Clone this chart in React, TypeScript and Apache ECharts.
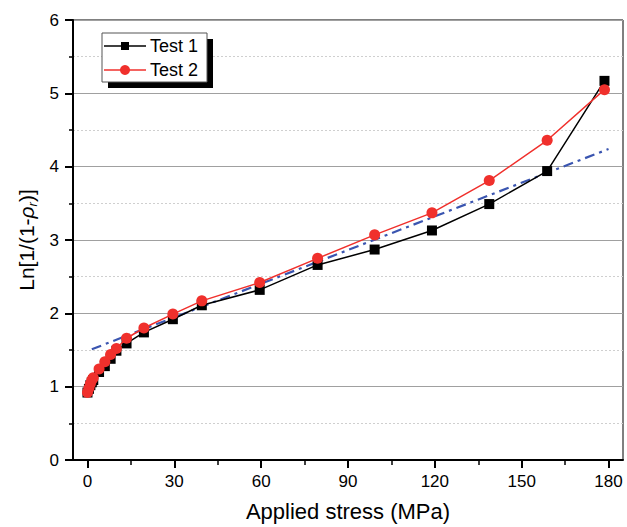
import React, { useEffect, useRef } from "react";
import * as echarts from "echarts";

const test1X = [0, 0.5, 1, 1.5, 2, 4, 6, 8, 10, 13.5, 19.5, 29.5, 39.5, 59.5, 79.5, 99.2, 119, 138.8, 158.8, 178.6];
const test1Y = [0.92, 0.97, 1.02, 1.06, 1.09, 1.2, 1.28, 1.38, 1.49, 1.59, 1.74, 1.92, 2.11, 2.32, 2.66, 2.87, 3.13, 3.49, 3.94, 5.17];
const test2X = [0, 0.5, 1, 1.5, 2, 4, 6, 8, 10, 13.5, 19.5, 29.5, 39.5, 59.5, 79.5, 99.2, 119, 138.8, 158.8, 178.6];
const test2Y = [0.92, 0.98, 1.04, 1.09, 1.12, 1.24, 1.34, 1.44, 1.52, 1.66, 1.8, 1.99, 2.17, 2.42, 2.75, 3.07, 3.37, 3.81, 4.36, 5.05];
const fitX = [1.5, 180];
const fitY = [1.51, 4.24];
const xTickLabels = [0, 30, 60, 90, 120, 150, 180];
const xMinorTicks = [15, 45, 75, 105, 135, 165];
const seriesNames = ["Test 1", "Test 2"];

const FONT = "Arial, 'Liberation Sans', sans-serif";

export default function App() {
  const ref = useRef<HTMLDivElement>(null);
  useEffect(() => {
    if (!ref.current) return;
    const chart = echarts.init(ref.current, null, { renderer: "svg" });
    const zip = (xs: number[], ys: number[]) => xs.map((x, i) => [x, ys[i]]);
    chart.setOption({
      animation: false,
      backgroundColor: "#fff",
      grid: {
        left: 73, right: 4, top: 20, bottom: 65,
        show: true, borderColor: "#000", borderWidth: 1, backgroundColor: "transparent",
      },
      xAxis: [
        {
          type: "value", min: -5, max: 185,
          axisLine: { show: true, onZero: false, lineStyle: { color: "#000", width: 2 } },
          axisTick: { show: true, customValues: xTickLabels, length: 8, lineStyle: { color: "#000", width: 2 } },
          axisLabel: { customValues: xTickLabels, color: "#000", fontSize: 17, fontFamily: FONT, margin: 13 },
          splitLine: { show: false },
          name: "Applied stress (MPa)", nameLocation: "middle", nameGap: 40,
          nameTextStyle: { color: "#000", fontSize: 22, fontFamily: FONT },
        },
        {
          type: "value", min: -5, max: 185, position: "bottom", gridIndex: 0,
          axisLine: { show: false, onZero: false },
          axisTick: { show: true, customValues: xMinorTicks, length: 5, inside: false, lineStyle: { color: "#000", width: 1.5 } },
          axisLabel: { show: false },
          splitLine: { show: false },
        },
      ],
      yAxis: {
        type: "value", min: 0, max: 6, interval: 1,
        axisLine: { show: true, onZero: false, lineStyle: { color: "#000", width: 2 } },
        axisTick: { show: true, length: 8, lineStyle: { color: "#000", width: 2 } },
        minorTick: { show: true, splitNumber: 2, length: 4, lineStyle: { color: "#000", width: 1.5 } },
        axisLabel: { color: "#000", fontSize: 17, fontFamily: FONT, margin: 14 },
        splitLine: { show: true, lineStyle: { color: "#a0a0a0", width: 1.2 } },
        minorSplitLine: { show: true, lineStyle: { color: "#cfcfcf", width: 1, type: [2, 2] } },
        name: "Ln[1/(1-{i|ρ}{s|r})]",
        nameLocation: "middle", nameGap: 33,
        nameTextStyle: {
          color: "#000", fontSize: 21, fontFamily: FONT,
          rich: {
            i: { fontStyle: "italic", fontSize: 21, fontFamily: FONT, color: "#000" },
            s: { fontStyle: "italic", fontSize: 13, fontFamily: FONT, color: "#000", verticalAlign: "bottom", padding: [11, 0, 0, 0] },
          },
        },
      },
      series: [
        {
          name: "fit", type: "line", data: zip(fitX, fitY), showSymbol: false, symbol: "none",
          lineStyle: { color: "#3a55b0", width: 2.2, type: [10, 5, 3, 5] }, z: 1,
        },
        {
          name: seriesNames[0], type: "line", data: zip(test1X, test1Y),
          symbol: "rect", symbolSize: 10,
          itemStyle: { color: "#000" }, lineStyle: { color: "#000", width: 1.5 }, z: 2,
        },
        {
          name: seriesNames[1], type: "line", data: zip(test2X, test2Y),
          symbol: "circle", symbolSize: 11,
          itemStyle: { color: "#f0302c" }, lineStyle: { color: "#f0302c", width: 1.5 }, z: 3,
        },
      ],
      graphic: [
        { type: "rect", shape: { x: 108, y: 39, width: 105, height: 49 }, style: { fill: "#000" }, z: 10 },
        { type: "rect", shape: { x: 102, y: 33, width: 105, height: 49 }, style: { fill: "#fff", stroke: "#555", lineWidth: 1 }, z: 11 },
        { type: "line", shape: { x1: 104, y1: 46, x2: 146, y2: 46 }, style: { stroke: "#000", lineWidth: 1.5 }, z: 12 },
        { type: "rect", shape: { x: 121, y: 42, width: 8, height: 8 }, style: { fill: "#000" }, z: 13 },
        { type: "text", x: 150, y: 46, style: { text: seriesNames[0], font: `18px ${FONT}`, fill: "#000", verticalAlign: "middle" }, z: 13 },
        { type: "line", shape: { x1: 104, y1: 70, x2: 146, y2: 70 }, style: { stroke: "#f0302c", lineWidth: 1.5 }, z: 12 },
        { type: "circle", shape: { cx: 125, cy: 70, r: 5 }, style: { fill: "#f0302c" }, z: 13 },
        { type: "text", x: 150, y: 70, style: { text: seriesNames[1], font: `18px ${FONT}`, fill: "#000", verticalAlign: "middle" }, z: 13 },
      ],
    });
    return () => chart.dispose();
  }, []);
  return <div ref={ref} style={{ width: 627, height: 527, position: "absolute", left: 0, top: 0 }} />;
}
